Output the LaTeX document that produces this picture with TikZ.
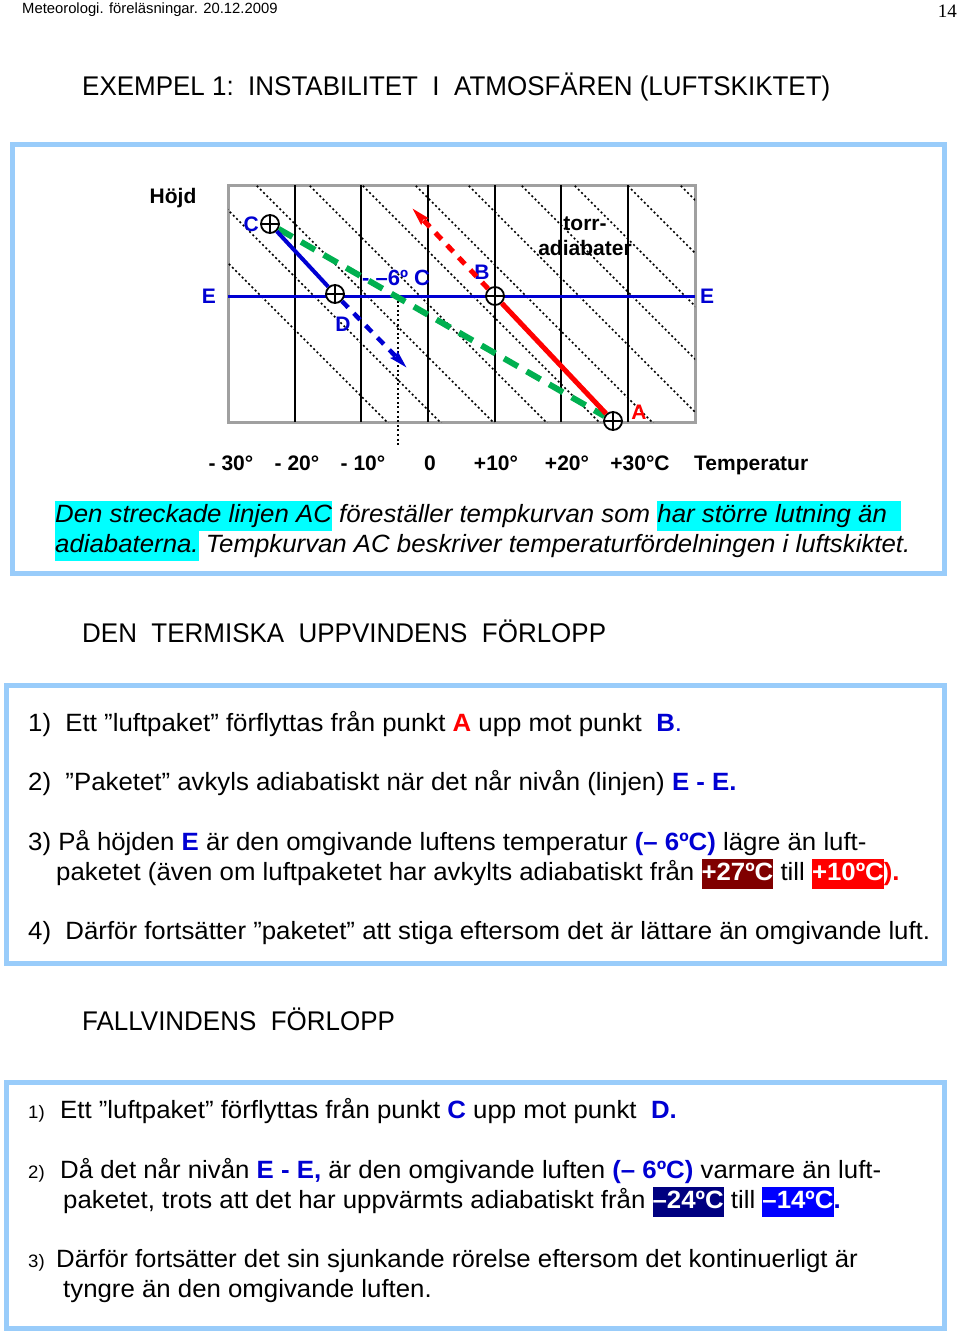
\documentclass[tikz,border=0pt]{standalone}
\usepackage{fontspec}
\setmainfont{Liberation Sans}
\newfontfamily\bodyfont{Liberation Sans}[FakeStretch=1.032]
\newfontfamily\headfont{Liberation Sans}[FakeStretch=0.962]
\newfontfamily\serifnum{Liberation Serif}
\usetikzlibrary{arrows.meta}
\usetikzlibrary{positioning}
\usetikzlibrary{calc}

\definecolor{boxblue}{RGB}{153,204,250}
\definecolor{hlcyan}{RGB}{0,255,255}
\definecolor{eblue}{RGB}{0,0,210}
\definecolor{ared}{RGB}{255,0,0}
\definecolor{acgreen}{RGB}{0,176,80}
\definecolor{framegray}{RGB}{160,160,160}
\definecolor{maroonbox}{RGB}{128,0,0}
\definecolor{navybox}{RGB}{0,0,128}
\definecolor{bluebox}{RGB}{0,0,255}

\newcommand\hl[1]{{\setlength\fboxsep{0pt}\colorbox{hlcyan}{\strut #1}}}
\newcommand\tempbox[2]{{\setlength\fboxsep{0pt}\colorbox{#1}{\strut\textcolor{white}{\bfseries #2}}}}
\newcommand\bl[1]{\textcolor{eblue}{\bfseries #1}}

\begin{document}
\begin{tikzpicture}[x=1pt, y=-1pt,
  txt/.style={anchor=base west, inner sep=0pt, font=\bodyfont\fontsize{25}{30}\selectfont},
  small/.style={txt, font=\bodyfont\fontsize{18}{22}\selectfont},
  head/.style={txt, font=\headfont\fontsize{27}{32}\selectfont},
  lbl/.style={inner sep=1pt, font=\bfseries\fontsize{21}{25}\selectfont},
  panel/.style={draw=boxblue, line width=5pt},
  parcel/.style={circle, draw, fill=white, line width=1.8pt, minimum size=18pt, inner sep=0pt,
    path picture={\draw[line width=1.8pt] (path picture bounding box.north) -- (path picture bounding box.south)
      (path picture bounding box.west) -- (path picture bounding box.east);}},
  adiabat/.style={line width=1.6pt, dash pattern=on 2pt off 2.6pt},
  tip/.style={-{Stealth[length=18pt, width=9pt, inset=2pt]}}]

\useasboundingbox (0,0) rectangle (960,1333);

\node[txt, font=\fontsize{14.8}{18}\selectfont] (hdr) at (22,13) {Meteorologi. föreläsningar. 20.12.2009};
\node[anchor=base east, inner sep=0pt, font=\serifnum\fontsize{19}{22}\selectfont] (page) at (957,17) {14};
\node[head] (title) at (82,95) {EXEMPEL 1:\ \ INSTABILITET\ \ I\ \ ATMOSFÄREN (LUFTSKIKTET)};

% diagram
\draw[panel] (12,144) rectangle (944,573);
\draw[framegray, line width=3pt] (228,185) rectangle (695,422);
\foreach \t in {-20,-10,...,30}
  \draw[line width=1.7pt] ({428+6.667*\t},185) -- ({428+6.667*\t},422);
\begin{scope}
  \clip (228,185) rectangle (695,422);
  \foreach \c in {-35,18,...,495}
    \draw[adiabat] (\c+150,150) -- (\c+450,450);
\end{scope}

\node[lbl, anchor=base] (hojd) at (173,203) {Höjd};
\node[lbl, align=center] (torr) at (585,236) {torr-\\adiabater};

\foreach \x/\t in {231/- 30°, 297/- 20°, 363/- 10°, 430/0, 496/+10°, 567/+20°, 640/+30°C}
  \node[lbl, anchor=base] (tick\x) at (\x,470) {\t};
\node[lbl, anchor=base west] (temp) at (693,470) {Temperatur};

\coordinate (E1) at (228,296);
\coordinate (E2) at (695,296);
\draw[eblue, line width=3pt] (E1) -- (E2);
\node[lbl, text=eblue, left=11pt of E1] (Eleft) {E};
\node[lbl, text=eblue, right=4pt of E2] (Eright) {E};

\coordinate (m6) at (398,296);
\coordinate (m6b) at (398,445);
\draw[adiabat] (m6) -- (m6b);

\node[parcel] (C) at (270,224) {};
\node[parcel] (D) at (335,294) {};
\node[parcel] (B) at (495,296) {};
\node[parcel] (A) at (613,421) {};
\node[lbl, text=eblue, left=0pt of C] (Clbl) {C};
\node[lbl, text=eblue] (Dlbl) at (343,324) {D};
\node[lbl, text=eblue] (Blbl) at (482,272) {B};
\node[lbl, text=ared] (Albl) at (639,412) {A};

\coordinate (Dend) at (407,368);
\coordinate (Bend) at (412,208);
\draw[acgreen, line width=6pt, dash pattern=on 16pt off 10pt] (C) -- (A);
\draw[eblue, line width=4pt] (C) -- (D);
\draw[eblue, line width=4.5pt, dash pattern=on 9pt off 8pt, tip] (D) -- (Dend);
\draw[ared, line width=5pt] (B) -- (A);
\draw[ared, line width=5pt, dash pattern=on 9pt off 8pt, tip] (B) -- (Bend);
\node[lbl, text=eblue, anchor=base west, font=\bfseries\fontsize{22}{26}\selectfont] (m6lbl) at (361,285) {- –6º C};

\node[txt, font=\bodyfont\itshape\fontsize{25}{30}\selectfont] (cap1) at (55,522)
  {\hl{Den streckade linjen AC} föreställer tempkurvan som \hl{har större lutning än\ \ }};
\node[txt, font=\bodyfont\itshape\fontsize{25}{30}\selectfont] (cap2) at (55,552)
  {\hl{adiabaterna.} Tempkurvan AC beskriver temperaturfördelningen i luftskiktet.};

% uppvind
\node[head] (termisk) at (82,642) {DEN\ \ TERMISKA\ \ UPPVINDENS\ \ FÖRLOPP};
\draw[panel] (6,685) rectangle (944,963);
\node[txt] (u1) at (28,731) {1)\ \ Ett ”luftpaket” förflyttas från punkt \textcolor{ared}{\bfseries A} upp mot punkt\ \ \bl{B}\textcolor{eblue}{.}};
\node[txt] (u2) at (28,790) {2)\ \ ”Paketet” avkyls adiabatiskt när det når nivån (linjen) \bl{E - E.}};
\node[txt] (u3) at (28,850) {3) På höjden \bl{E} är den omgivande luftens temperatur \bl{(– 6ºC)} lägre än luft-};
\node[txt] (u3b) at (56,880) {paketet (även om luftpaketet har avkylts adiabatiskt från \tempbox{maroonbox}{+27ºC} till \tempbox{ared}{+10ºC}\textcolor{ared}{\bfseries ).}};
\node[txt] (u4) at (28,939) {4)\ \ Därför fortsätter ”paketet” att stiga eftersom det är lättare än omgivande luft.};

% fallvind
\node[head] (fall) at (82,1030) {FALLVINDENS\ \ FÖRLOPP};
\draw[panel] (6,1082) rectangle (944,1328);
\node[small] (f1n) at (28,1118) {1)};
\node[txt] (f1) at (60,1118) {Ett ”luftpaket” förflyttas från punkt \bl{C} upp mot punkt\ \ \bl{D.}};
\node[small] (f2n) at (28,1178) {2)};
\node[txt] (f2) at (60,1178) {Då det når nivån \bl{E - E,} är den omgivande luften \bl{(– 6ºC)} varmare än luft-};
\node[txt] (f2b) at (63,1208) {paketet, trots att det har uppvärmts adiabatiskt från \tempbox{navybox}{–24ºC} till \tempbox{bluebox}{–14ºC}\bl{.}};
\node[small] (f3n) at (28,1267) {3)};
\node[txt] (f3) at (56,1267) {Därför fortsätter det sin sjunkande rörelse eftersom det kontinuerligt är};
\node[txt] (f3b) at (63,1297) {tyngre än den omgivande luften.};
\end{tikzpicture}
\end{document}
